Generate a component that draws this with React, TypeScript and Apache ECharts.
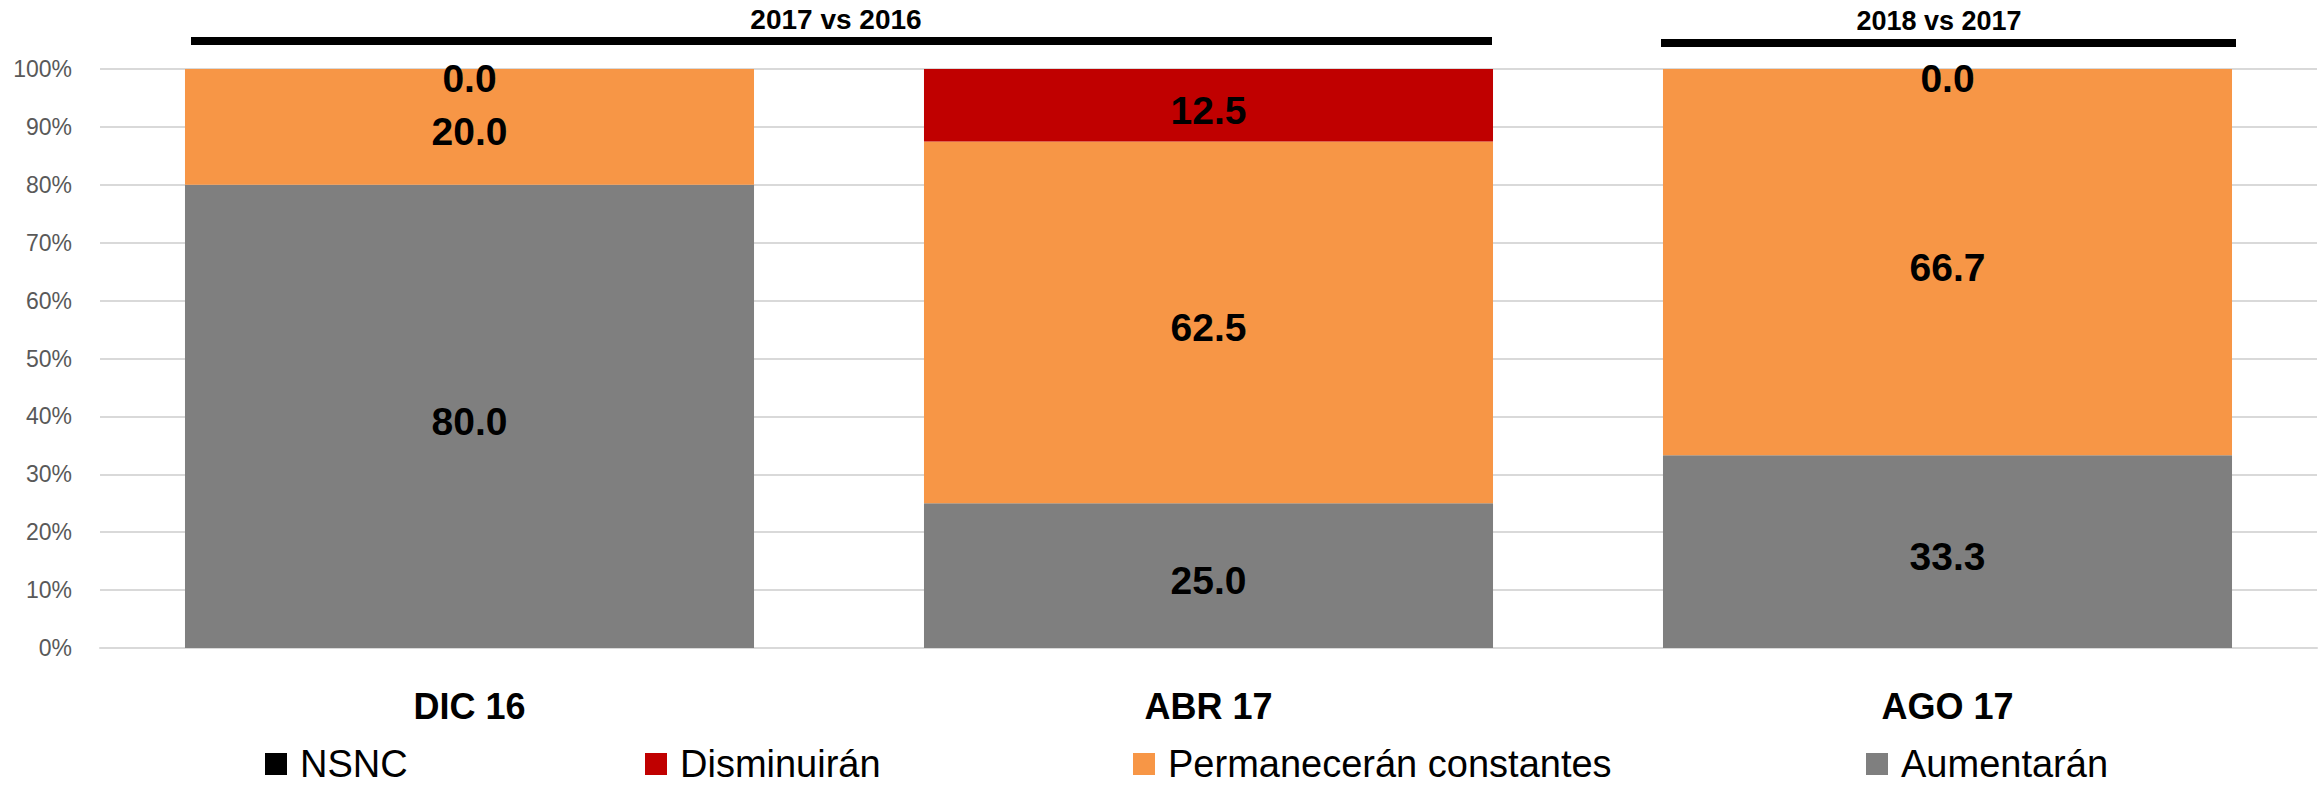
import React, { useEffect, useRef } from "react";
import * as echarts from "echarts";

const categories = ["DIC 16", "ABR 17", "AGO 17"];
const aumentaran = [80.0, 25.0, 33.3];
const permaneceran = [20.0, 62.5, 66.7];
const disminuiran = [0.0, 12.5, 0.0];
const nsnc: (number | null)[] = [null, null, null];
const seriesNames = ["Aumentarán", "Permanecerán constantes", "Disminuirán", "NSNC"];
const seriesColors = ["#7F7F7F", "#F79646", "#C00000", "#000000"];
const periodLabels = ["2017 vs 2016", "2018 vs 2017"];

const FONT = "Liberation Sans, Arial, sans-serif";

export default function App() {
  const ref = useRef<HTMLDivElement>(null);
  useEffect(() => {
    if (!ref.current) return;
    const chart = echarts.init(ref.current, null, { renderer: "svg" });
    const values = [aumentaran, permaneceran, disminuiran, nsnc];
    const series: any[] = values.map((data, i) => ({
      name: seriesNames[i],
      type: "bar",
      stack: "total",
      barCategoryGap: "23%",
      data: data.map((v) =>
        v === 0 ? { value: v, label: { offset: [0, 9] } } : v
      ),
      itemStyle: { color: seriesColors[i] },
      label: {
        show: true,
        position: "inside",
        formatter: (p: any) => (p.value == null ? "" : Number(p.value).toFixed(1)),
        color: "#000",
        fontFamily: FONT,
        fontWeight: "bold",
        fontSize: 39,
        offset: [0, 5],
      },
    }));

    const legendLefts = [1866, 1133, 645, 265];
    const legends = seriesNames.map((n, i) => ({
      data: [n],
      left: legendLefts[i],
      top: 745,
      padding: 0,
      orient: "horizontal",
      selectedMode: false,
      itemWidth: 22,
      itemHeight: 22,
      icon: "rect",
      textStyle: {
        fontFamily: FONT,
        fontSize: 38,
        color: "#000",
        padding: [0, 0, 0, 8],
      },
    }));

    chart.setOption({
      animation: false,
      backgroundColor: "#fff",
      grid: { left: 100, right: 1, top: 69, bottom: 137, containLabel: false },
      legend: legends,
      xAxis: {
        type: "category",
        data: categories,
        axisLine: { show: true, lineStyle: { color: "#D9D9D9", width: 2 } },
        axisTick: { show: false },
        axisLabel: {
          fontFamily: FONT,
          fontWeight: "bold",
          fontSize: 36,
          color: "#000",
          margin: 40,
        },
      },
      yAxis: {
        type: "value",
        min: 0,
        max: 100,
        interval: 10,
        axisLine: { show: false },
        axisTick: { show: false },
        splitLine: { lineStyle: { color: "#D9D9D9", width: 2 } },
        axisLabel: {
          formatter: "{value}%",
          fontFamily: FONT,
          fontSize: 23,
          color: "#595959",
          margin: 28,
        },
      },
      series,
      graphic: [
        {
          type: "line",
          shape: { x1: 191, y1: 41, x2: 1492, y2: 41 },
          style: { stroke: "#000", lineWidth: 8 },
        },
        {
          type: "line",
          shape: { x1: 1661, y1: 43, x2: 2236, y2: 43 },
          style: { stroke: "#000", lineWidth: 8 },
        },
        {
          type: "text",
          x: 836,
          y: 33,
          style: {
            text: periodLabels[0],
            fontFamily: FONT,
            fontWeight: "bold",
            fontSize: 28,
            fill: "#000",
            align: "center",
            verticalAlign: "bottom",
          },
        },
        {
          type: "text",
          x: 1939,
          y: 34,
          style: {
            text: periodLabels[1],
            fontFamily: FONT,
            fontWeight: "bold",
            fontSize: 27,
            fill: "#000",
            align: "center",
            verticalAlign: "bottom",
          },
        },
      ],
    });
    return () => chart.dispose();
  }, []);
  return (
    <div
      ref={ref}
      style={{ position: "fixed", left: 0, top: 0, width: 2318, height: 785 }}
    />
  );
}
